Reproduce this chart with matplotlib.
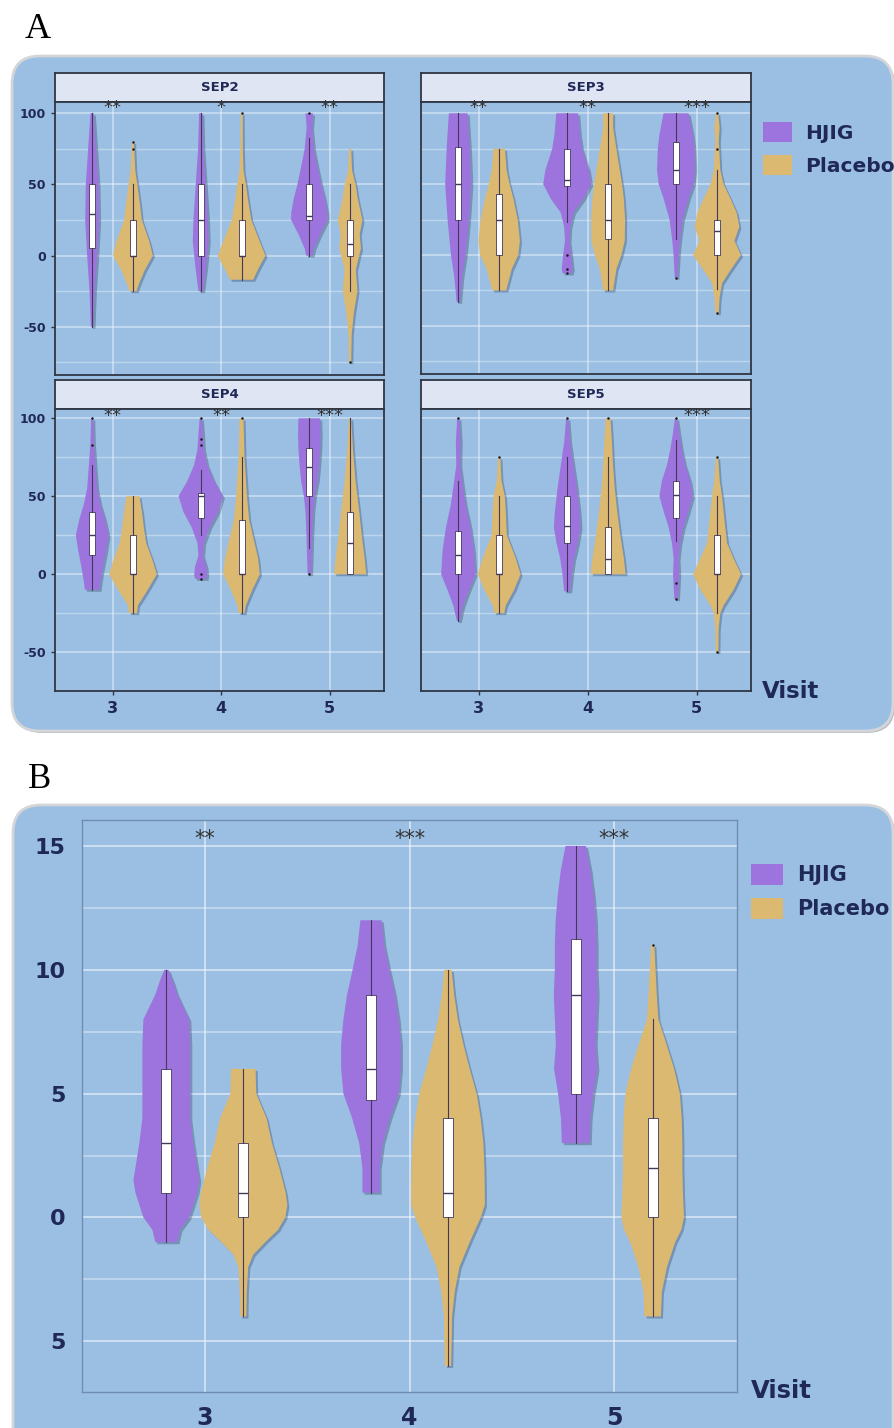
import matplotlib
matplotlib.use("Agg")
import matplotlib.pyplot as plt
import matplotlib.patheffects as pe
from matplotlib.patches import FancyBboxPatch, Patch

# ---- data --------------------------------------------------------------
visits = [3, 4, 5]
groups = ["HJIG", "Placebo"]

# violin outlines: (score, half width in x units), one list per visit
sep2_hjig = [
    [(100, .015), (75, .037), (50, .058), (25, .064), (0, .046), (-25, .024), (-50, .012)],
    [(100, .015), (75, .024), (50, .046), (25, .067), (10, .073), (0, .06), (-10, .046), (-25, .021)],
    [(100, .035), (90, .024), (75, .043), (60, .082), (50, .11), (40, .143), (30, .167), (25, .167),
     (15, .10), (5, .043), (0, .03)],
]
sep2_placebo = [
    [(80, .01), (75, .012), (60, .021), (50, .04), (40, .058), (25, .082), (10, .15), (0, .183),
     (-10, .11), (-20, .055), (-25, .033)],
    [(100, .009), (75, .012), (60, .018), (50, .04), (40, .058), (25, .09), (10, .167), (0, .22),
     (-10, .15), (-17, .107)],
    [(75, .01), (60, .018), (50, .05), (40, .07), (25, .113), (15, .088), (5, .10), (0, .083),
     (-10, .053), (-25, .067), (-40, .035), (-55, .015), (-75, .01)],
]
sep3_hjig = [
    [(100, .086), (75, .107), (50, .12), (25, .098), (0, .067), (-15, .037), (-33, .015)],
    [(100, .10), (85, .117), (75, .137), (60, .20), (50, .22), (40, .153), (30, .06), (20, .028),
     (10, .02), (0, .037), (-10, .05), (-13, .04)],
    [(100, .115), (85, .153), (75, .168), (60, .175), (50, .16), (40, .115), (25, .06), (10, .035),
     (0, .023), (-16, .012)],
]
sep3_placebo = [
    [(75, .053), (60, .068), (50, .095), (40, .13), (25, .17), (10, .19), (0, .175), (-10, .115),
     (-25, .064)],
    [(100, .046), (90, .046), (75, .076), (60, .107), (50, .128), (40, .144), (25, .156), (10, .153),
     (0, .122), (-10, .076), (-25, .046)],
    [(100, .01), (90, .024), (80, .015), (75, .02), (60, .03), (50, .06), (40, .122), (30, .18),
     (20, .205), (10, .16), (0, .22), (-10, .13), (-20, .046), (-30, .024), (-41, .015)],
]
sep4_hjig = [
    [(100, .01), (85, .015), (70, .03), (55, .046), (45, .076), (35, .119), (25, .15), (15, .128),
     (5, .10), (-5, .076), (-10, .067)],
    [(100, .01), (90, .021), (80, .03), (70, .061), (60, .122), (50, .204), (40, .16), (30, .083),
     (20, .03), (12, .021), (5, .052), (0, .06), (-3, .052)],
    [(100, .10), (90, .104), (80, .10), (70, .09), (60, .076), (50, .05), (40, .035), (25, .026),
     (10, .02), (0, .015)],
]
sep4_placebo = [
    [(50, .06), (40, .083), (30, .10), (20, .122), (10, .175), (0, .22), (-10, .137), (-20, .046),
     (-25, .037)],
    [(100, .018), (75, .027), (50, .05), (35, .07), (20, .12), (10, .153), (0, .168), (-10, .10),
     (-20, .04), (-25, .027)],
    [(100, .01), (80, .026), (60, .05), (40, .084), (25, .107), (10, .134), (0, .148)],
]
sep5_hjig = [
    [(100, .01), (85, .022), (70, .018), (60, .037), (45, .067), (30, .113), (15, .144), (0, .157),
     (-10, .10), (-20, .046), (-30, .013)],
    [(100, .01), (85, .027), (70, .058), (55, .089), (40, .113), (30, .122), (20, .098), (10, .064),
     (0, .043), (-11, .027)],
    [(100, .01), (90, .03), (80, .053), (70, .084), (60, .13), (50, .153), (40, .113), (30, .068),
     (20, .038), (10, .022), (0, .028), (-10, .021), (-16, .015)],
]
sep5_placebo = [
    [(75, .01), (60, .021), (50, .052), (40, .061), (25, .07), (10, .153), (0, .196), (-10, .138),
     (-20, .061), (-25, .046)],
    [(100, .022), (85, .035), (70, .045), (55, .061), (40, .084), (25, .112), (10, .145), (0, .16)],
    [(75, .01), (60, .025), (50, .046), (40, .061), (30, .076), (20, .092), (10, .153), (0, .22),
     (-10, .153), (-20, .061), (-25, .03), (-35, .015), (-50, .012)],
]
total_hjig = [
    [(10, .01), (9.5, .034), (9, .054), (8, .112), (7, .117), (6, .117), (5, .117), (4, .117),
     (3, .132), (2, .151), (1.5, .161), (1, .151), (0, .112), (-0.5, .068), (-1, .054)],
    [(12, .052), (11, .065), (10, .09), (9, .117), (8, .135), (7, .146), (6, .146), (5, .135),
     (4, .092), (3, .058), (2, .042), (1, .042)],
    [(15, .05), (14, .073), (13, .088), (12, .098), (11, .102), (10, .102), (9, .107), (8, .102),
     (7, .097), (6, .106), (5, .086), (4, .072), (3, .068)],
]
total_placebo = [
    [(6, .06), (5, .063), (4, .114), (3, .14), (2, .176), (1, .207), (0.5, .215), (0, .205),
     (-0.5, .17), (-1, .107), (-1.5, .049), (-2, .024), (-3, .017), (-4, .015)],
    [(10, .018), (9, .03), (8, .048), (7, .075), (6, .106), (5, .14), (4, .16), (3, .173), (2, .178),
     (1, .18), (0.5, .18), (0, .16), (-1, .106), (-2, .056), (-3, .033), (-4, .02), (-5, .018),
     (-6, .015)],
    [(11, .008), (10, .014), (9, .02), (8, .028), (7, .067), (6, .105), (5, .133), (4, .142),
     (3, .145), (2, .145), (1, .148), (0, .153), (-0.5, .14), (-1, .11), (-2, .07), (-3, .045),
     (-4, .04)],
]

# box stats: whisker low, q1, median, q3, whisker high
sep2_hjig_box = [[-50, 5, 29, 50, 100], [-25, 0, 25, 50, 100], [0, 25, 28, 50, 83]]
sep2_placebo_box = [[-25, 0, 0, 25, 50], [-17, 0, 0, 25, 50], [-25, 0, 8, 25, 50]]
sep3_hjig_box = [[-33, 25, 50, 76, 100], [23, 49, 53, 75, 100], [11, 50, 60, 80, 100]]
sep3_placebo_box = [[-25, 0, 25, 43, 75], [-25, 11, 25, 50, 100], [-24, 0, 17, 25, 60]]
sep4_hjig_box = [[-10, 12, 25, 40, 70], [25, 36, 50, 52, 67], [17, 50, 69, 81, 100]]
sep4_placebo_box = [[-25, 0, 0, 25, 50], [-25, 0, 0, 35, 75], [0, 0, 20, 40, 100]]
sep5_hjig_box = [[-30, 0, 12, 28, 60], [-11, 20, 31, 50, 75], [21, 36, 51, 60, 86]]
sep5_placebo_box = [[-25, 0, 0, 25, 50], [0, 0, 10, 30, 75], [-25, 0, 0, 25, 50]]
total_hjig_box = [[-1, 1, 3, 6, 10], [1, 4.75, 6, 9, 12], [3, 5, 9, 11.25, 15]]
total_placebo_box = [[-4, 0, 1, 3, 6], [-6, 0, 1, 4, 10], [-4, 0, 2, 4, 8]]

# outlying points
sep2_hjig_out = [[], [], [100]]
sep2_placebo_out = [[75, 80], [100], [-75]]
sep3_hjig_out = [[], [0, -10, -13], [-16]]
sep3_placebo_out = [[], [], [75, 100, -41]]
sep4_hjig_out = [[83, 100], [87, 83, 100, 0, -3], [0]]
sep4_placebo_out = [[], [100], []]
sep5_hjig_out = [[100], [100], [100, -6, -16]]
sep5_placebo_out = [[75], [100], [75, -50]]
total_hjig_out = [[], [], []]
total_placebo_out = [[], [], [11]]

# significance marks per visit
sep2_stars = ["**", "*", "**"]
sep3_stars = ["**", "**", "***"]
sep4_stars = ["**", "**", "***"]
sep5_stars = ["", "", "***"]
total_stars = ["**", "***", "***"]

# ---- style -------------------------------------------------------------
W, H = 894, 1428
BLUE = "#9bbfe3"
PURPLE = "#9d74de"
TAN = "#dcb971"
NAVY = "#1f2857"
STRIP = "#dfe5f2"
FRAME = "#2f3644"
LINE = "#43385a"
DODGE = 0.188

plt.rcParams["font.family"] = ["DejaVu Sans"]
plt.rcParams["axes.unicode_minus"] = False


def rect(l, t, r, b):
    return [l / W, 1 - b / H, (r - l) / W, (b - t) / H]


shadow = [pe.SimplePatchShadow(offset=(1.5, -1.5), shadow_rgbFace="#30425c", alpha=0.35),
          pe.Normal()]


def draw_group(ax, profiles, boxes, outs, offset, color, box_w):
    pos = [v + offset for v in visits]
    for p, prof in zip(pos, profiles):
        ys = [a for a, w in prof]
        ws = [w for a, w in prof]
        poly = ax.fill_betweenx(ys, [p - w for w in ws], [p + w for w in ws],
                                color=color, lw=0, zorder=2)
        poly.set_path_effects(shadow)
    stats = [dict(whislo=b[0], q1=b[1], med=b[2], q3=b[3], whishi=b[4], fliers=o)
             for b, o in zip(boxes, outs)]
    ax.bxp(stats, positions=pos, widths=box_w, patch_artist=True, showcaps=False,
           manage_ticks=False, zorder=3,
           boxprops=dict(facecolor="white", edgecolor=LINE, linewidth=0.6),
           medianprops=dict(color=LINE, linewidth=1.0),
           whiskerprops=dict(color=LINE, linewidth=0.8),
           flierprops=dict(marker="o", markersize=1.8, markerfacecolor="#1a1a1a",
                           markeredgecolor="none"))


fig = plt.figure(figsize=(W / 100, H / 100), dpi=100)

# background boxes in pixel units
bg = fig.add_axes([0, 0, 1, 1], zorder=-1)
bg.set_xlim(0, W)
bg.set_ylim(H, 0)
bg.axis("off")
for (x0, y0, x1, y1) in [(12, 56, 893, 731), (13, 805, 893, 1460)]:
    bg.add_patch(FancyBboxPatch((x0 + 2, y0 + 2), x1 - x0, y1 - y0,
                                boxstyle="round,pad=0,rounding_size=28",
                                fc="#b9bcc2", ec="none"))
    bg.add_patch(FancyBboxPatch((x0, y0), x1 - x0, y1 - y0,
                                boxstyle="round,pad=0,rounding_size=28",
                                fc=BLUE, ec="#d3d5d8", lw=2))

fig.text(25 / W, 1 - 38 / H, "A", family="Liberation Serif", fontsize=26, color="black",
         va="baseline")
fig.text(28 / W, 1 - 788 / H, "B", family="Liberation Serif", fontsize=25, color="black",
         va="baseline")

# ---- panel A facets ----------------------------------------------------
facets = [
    ("SEP2", (55, 73, 384, 102, 375), (-84, 108), True, False,
     sep2_hjig, sep2_placebo, sep2_hjig_box, sep2_placebo_box, sep2_hjig_out, sep2_placebo_out,
     sep2_stars),
    ("SEP3", (421, 73, 751, 102, 374), (-84, 108), False, False,
     sep3_hjig, sep3_placebo, sep3_hjig_box, sep3_placebo_box, sep3_hjig_out, sep3_placebo_out,
     sep3_stars),
    ("SEP4", (55, 380, 384, 409, 691), (-52.5, 106), True, True,
     sep4_hjig, sep4_placebo, sep4_hjig_box, sep4_placebo_box, sep4_hjig_out, sep4_placebo_out,
     sep4_stars),
    ("SEP5", (421, 380, 751, 409, 691), (-52.5, 106), False, True,
     sep5_hjig, sep5_placebo, sep5_hjig_box, sep5_placebo_box, sep5_hjig_out, sep5_placebo_out,
     sep5_stars),
]

for (name, (l, st, r, t, b), ylim, show_y, show_x,
     hv, pv, hb, pb, ho, po, stars) in facets:
    sx = fig.add_axes(rect(l, st, r, t))
    sx.set_facecolor(STRIP)
    sx.set_xticks([])
    sx.set_yticks([])
    for s in sx.spines.values():
        s.set_color(FRAME)
        s.set_linewidth(1.3)
    sx.text(0.5, 0.5, name, transform=sx.transAxes, ha="center", va="center",
            fontsize=9.5, fontweight="bold", color=NAVY)

    ax = fig.add_axes(rect(l, t, r, b))
    ax.set_facecolor(BLUE)
    ax.set_xlim(2.47, 5.5)
    ax.set_ylim(*ylim)
    ax.set_xticks(visits)
    ax.set_yticks([-50, 0, 50, 100])
    ax.set_yticks([-75, -25, 25, 75], minor=True)
    ax.set_axisbelow(True)
    ax.grid(which="major", color="white", alpha=0.5, lw=1.1)
    ax.grid(which="minor", axis="y", color="white", alpha=0.35, lw=1.0)
    for s in ax.spines.values():
        s.set_color(FRAME)
        s.set_linewidth(1.3)
    ax.tick_params(which="minor", length=0)
    ax.tick_params(which="major", color=FRAME, length=3, width=1, labelcolor=NAVY)
    ax.tick_params(axis="y", labelsize=9)
    ax.tick_params(axis="x", labelsize=11.5, pad=4)
    for lab in ax.get_xticklabels() + ax.get_yticklabels():
        lab.set_fontweight("bold")
    if not show_y:
        ax.tick_params(axis="y", length=0, labelleft=False)
    if not show_x:
        ax.tick_params(axis="x", length=0, labelbottom=False)

    draw_group(ax, hv, hb, ho, -DODGE, PURPLE, 0.055)
    draw_group(ax, pv, pb, po, DODGE, TAN, 0.055)

    for v, s in zip(visits, stars):
        ax.text(v, ylim[1] - 4.5, s, ha="center", va="center", fontsize=13,
                color="#333333", zorder=4)

fig.text(762 / W, 1 - 698 / H, "Visit", fontsize=16.5, fontweight="bold", color=NAVY,
         va="baseline")

handles = [Patch(facecolor=PURPLE, edgecolor="none"), Patch(facecolor=TAN, edgecolor="none")]
fig.legend(handles, groups, loc="upper left", bbox_to_anchor=(763 / W, 1 - 122 / H),
           frameon=False, borderpad=0, borderaxespad=0, handlelength=1.45, handleheight=1.15,
           handletextpad=0.65, labelspacing=0.6,
           prop=dict(size=14.5, weight="bold"), labelcolor=NAVY)

# ---- panel B -----------------------------------------------------------
axb = fig.add_axes(rect(82, 820, 737, 1392))
axb.set_facecolor(BLUE)
axb.set_xlim(2.4, 5.6)
axb.set_ylim(-7.05, 16.05)
axb.set_xticks(visits)
axb.set_yticks([-5, 0, 5, 10, 15])
axb.set_yticklabels(["5", "0", "5", "10", "15"])
axb.set_yticks([-2.5, 2.5, 7.5, 12.5], minor=True)
axb.set_axisbelow(True)
axb.grid(which="major", color="white", alpha=0.55, lw=1.3)
axb.grid(which="minor", axis="y", color="white", alpha=0.4, lw=1.2)
for s in axb.spines.values():
    s.set_color("#6f8db0")
    s.set_linewidth(1.0)
axb.tick_params(which="both", length=0, labelcolor=NAVY)
axb.tick_params(axis="y", labelsize=16, pad=12)
axb.tick_params(axis="x", labelsize=17, pad=10)
for lab in axb.get_xticklabels() + axb.get_yticklabels():
    lab.set_fontweight("bold")

draw_group(axb, total_hjig, total_hjig_box, total_hjig_out, -DODGE, PURPLE, 0.05)
draw_group(axb, total_placebo, total_placebo_box, total_placebo_out, DODGE, TAN, 0.05)
for v, s in zip(visits, total_stars):
    axb.text(v, 15.3, s, ha="center", va="center", fontsize=15, color="#333333", zorder=4)

fig.text(751 / W, 1 - 1398 / H, "Visit", fontsize=17.5, fontweight="bold", color=NAVY,
         va="baseline")
fig.legend(handles, groups, loc="upper left", bbox_to_anchor=(751 / W, 1 - 864 / H),
           frameon=False, borderpad=0, borderaxespad=0, handlelength=1.54, handleheight=1.15,
           handletextpad=0.67, labelspacing=0.6,
           prop=dict(size=15, weight="bold"), labelcolor=NAVY)

fig.savefig("out.png", dpi=100)
